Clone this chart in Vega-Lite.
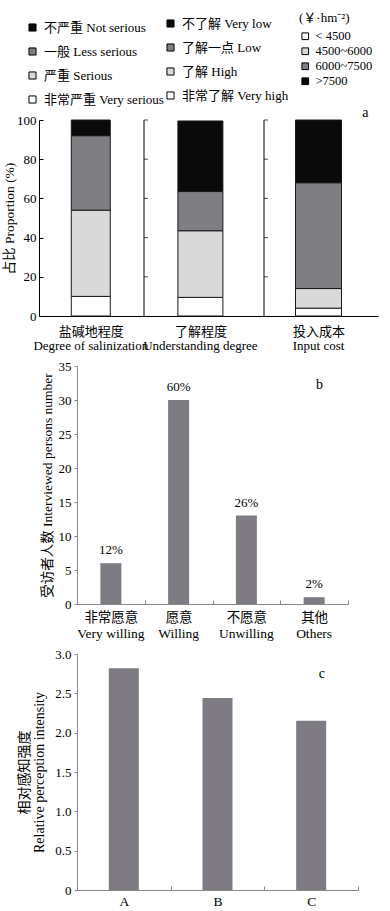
{
  "$schema": "https://vega.github.io/schema/vega-lite/v6.json",
  "background": "white",
  "padding": {"left": 2, "top": 12, "right": 0, "bottom": 0},
  "spacing": 7,
  "config": {
    "font": "Liberation Serif, Noto Sans CJK SC",
    "view": {"stroke": null},
    "axis": {"labelFont": "Liberation Serif, Noto Sans CJK SC", "titleFont": "Liberation Serif, Noto Sans CJK SC", "labelColor": "#000", "titleColor": "#000", "titleFontWeight": "normal", "grid": false, "labelFontSize": 13, "titleFontSize": 14, "labelOverlap": false},
    "legend": {"labelFont": "Liberation Serif, Noto Sans CJK SC", "titleFont": "Liberation Serif, Noto Sans CJK SC", "labelColor": "#000", "titleColor": "#000", "titleFontWeight": "normal"},
    "text": {"font": "Liberation Serif, Noto Sans CJK SC", "color": "#000"}
  },
  "datasets": {
    "a1": [
      {"group": "盐碱地程度", "level": "非常严重 Very serious", "value": 10, "rank": 1},
      {"group": "盐碱地程度", "level": "严重 Serious", "value": 44, "rank": 2},
      {"group": "盐碱地程度", "level": "一般 Less serious", "value": 38, "rank": 3},
      {"group": "盐碱地程度", "level": "不严重 Not serious", "value": 8, "rank": 4}
    ],
    "a2": [
      {"group": "了解程度", "level": "非常了解 Very high", "value": 9.5, "rank": 1},
      {"group": "了解程度", "level": "了解 High", "value": 34, "rank": 2},
      {"group": "了解程度", "level": "了解一点 Low", "value": 20, "rank": 3},
      {"group": "了解程度", "level": "不了解 Very low", "value": 36, "rank": 4}
    ],
    "a3": [
      {"group": "投入成本", "level": "< 4500", "value": 4, "rank": 1},
      {"group": "投入成本", "level": "4500~6000", "value": 10, "rank": 2},
      {"group": "投入成本", "level": "6000~7500", "value": 54, "rank": 3},
      {"group": "投入成本", "level": ">7500", "value": 32, "rank": 4}
    ],
    "aTicks": [
      {"value": 20}, {"value": 40}, {"value": 60}, {"value": 80}, {"value": 100}
    ],
    "b": [
      {"cat": "非常愿意", "en": "Very willing", "n": 6, "pct": "12%"},
      {"cat": "愿意", "en": "Willing", "n": 30, "pct": "60%"},
      {"cat": "不愿意", "en": "Unwilling", "n": 13, "pct": "26%"},
      {"cat": "其他", "en": "Others", "n": 1, "pct": "2%"}
    ],
    "c": [
      {"cat": "A", "v": 2.82},
      {"cat": "B", "v": 2.44},
      {"cat": "C", "v": 2.15}
    ]
  },
  "vconcat": [
    {
      "width": 301,
      "height": 196,
      "resolve": {"scale": {"color": "independent"}, "legend": {"color": "independent"}},
      "layer": [
        {
          "data": {"name": "a1"},
          "mark": {"type": "bar", "size": 39, "stroke": "#1a1a1a", "strokeWidth": 1},
          "encoding": {
            "x": {"datum": 0.47, "type": "quantitative",
              "scale": {"domain": [0, 1, 2, 3], "range": [-38, 67, 187, 301], "zero": false, "nice": false},
              "axis": {"values": [0.47, 1.47, 2.5], "labelExpr": "datum.value < 1 ? '盐碱地程度' : datum.value < 2 ? '了解程度' : '投入成本'", "title": null, "ticks": false, "grid": false, "domainColor": "#000", "labelPadding": 9, "labelFontSize": 13, "labelFlush": false, "labelOverlap": false}},
            "y": {"field": "value", "type": "quantitative", "scale": {"domain": [0, 100]},
              "axis": {"values": [0, 20, 40, 60, 80, 100], "labelOverlap": false, "title": "占比 Proportion (%)", "titleFontSize": 13.5, "offset": 38, "tickSize": -4, "labelPadding": 7, "domainColor": "#000", "tickColor": "#000", "titlePadding": 0}},
            "color": {"field": "level", "type": "nominal",
              "scale": {"domain": ["不严重 Not serious", "一般 Less serious", "严重 Serious", "非常严重 Very serious"], "range": ["#0a0a0a", "#7f7e83", "#d9d9d9", "#ffffff"]},
              "legend": {"orient": "none", "legendX": -51, "legendY": -99, "title": null, "symbolType": "square", "symbolSize": 50, "symbolStrokeColor": "#000", "symbolStrokeWidth": 1, "labelFontSize": 13, "rowPadding": 10, "labelOffset": 5}},
            "order": {"field": "rank", "type": "quantitative"}
          }
        },
        {
          "data": {"name": "a2"},
          "mark": {"type": "bar", "size": 45, "stroke": "#1a1a1a", "strokeWidth": 1},
          "encoding": {
            "x": {"datum": 1.47, "type": "quantitative"},
            "y": {"field": "value", "type": "quantitative",
              "axis": {"values": [0, 20, 40, 60, 80, 100], "labelOverlap": false, "title": "占比 Proportion (%)", "titleFontSize": 13.5, "offset": 38, "tickSize": -4, "labelPadding": 7, "domainColor": "#000", "tickColor": "#000", "titlePadding": 0}},
            "color": {"field": "level", "type": "nominal",
              "scale": {"domain": ["不了解 Very low", "了解一点 Low", "了解 High", "非常了解 Very high"], "range": ["#0a0a0a", "#7f7e83", "#d9d9d9", "#ffffff"]},
              "legend": {"orient": "none", "legendX": 87, "legendY": -103, "title": null, "symbolType": "square", "symbolSize": 50, "symbolStrokeColor": "#000", "symbolStrokeWidth": 1, "labelFontSize": 13, "rowPadding": 10, "labelOffset": 5}},
            "order": {"field": "rank", "type": "quantitative"}
          }
        },
        {
          "data": {"name": "a3"},
          "mark": {"type": "bar", "size": 46, "stroke": "#1a1a1a", "strokeWidth": 1},
          "encoding": {
            "x": {"datum": 2.5, "type": "quantitative"},
            "y": {"field": "value", "type": "quantitative",
              "axis": {"values": [0, 20, 40, 60, 80, 100], "labelOverlap": false, "title": "占比 Proportion (%)", "titleFontSize": 13.5, "offset": 38, "tickSize": -4, "labelPadding": 7, "domainColor": "#000", "tickColor": "#000", "titlePadding": 0}},
            "color": {"field": "level", "type": "nominal",
              "scale": {"domain": ["< 4500", "4500~6000", "6000~7500", ">7500"], "range": ["#ffffff", "#d9d9d9", "#7f7e83", "#0a0a0a"]},
              "legend": {"orient": "none", "legendX": 222, "legendY": -108, "title": "(￥·hm⁻²)", "titleFontSize": 13, "titlePadding": 5, "symbolType": "square", "symbolSize": 45, "symbolStrokeColor": "#000", "symbolStrokeWidth": 1, "labelFontSize": 12.5, "rowPadding": 2, "labelOffset": 4}},
            "order": {"field": "rank", "type": "quantitative"}
          }
        },
        {
          "data": {"values": [{}]},
          "mark": {"type": "rule", "color": "#000", "strokeWidth": 1},
          "encoding": {"x": {"datum": 1, "type": "quantitative"}}
        },
        {
          "data": {"values": [{}]},
          "mark": {"type": "rule", "color": "#000", "strokeWidth": 1},
          "encoding": {"x": {"datum": 2, "type": "quantitative"}}
        },
        {
          "data": {"name": "aTicks"},
          "mark": {"type": "tick", "orient": "horizontal", "size": 4, "thickness": 1, "xOffset": 2, "color": "#000"},
          "encoding": {
            "x": {"datum": 1, "type": "quantitative"},
            "y": {"field": "value", "type": "quantitative",
              "axis": {"values": [0, 20, 40, 60, 80, 100], "labelOverlap": false, "title": "占比 Proportion (%)", "titleFontSize": 13.5, "offset": 38, "tickSize": -4, "labelPadding": 7, "domainColor": "#000", "tickColor": "#000", "titlePadding": 0}}
          }
        },
        {
          "data": {"name": "aTicks"},
          "mark": {"type": "tick", "orient": "horizontal", "size": 4, "thickness": 1, "xOffset": 2, "color": "#000"},
          "encoding": {
            "x": {"datum": 2, "type": "quantitative"},
            "y": {"field": "value", "type": "quantitative",
              "axis": {"values": [0, 20, 40, 60, 80, 100], "labelOverlap": false, "title": "占比 Proportion (%)", "titleFontSize": 13.5, "offset": 38, "tickSize": -4, "labelPadding": 7, "domainColor": "#000", "tickColor": "#000", "titlePadding": 0}}
          }
        },
        {
          "data": {"values": [{}]},
          "mark": {"type": "text", "text": "Degree of salinization", "fontSize": 13, "dy": 30, "baseline": "middle"},
          "encoding": {"x": {"datum": 0.47, "type": "quantitative"},
            "y": {"datum": 0, "type": "quantitative",
              "axis": {"values": [0, 20, 40, 60, 80, 100], "labelOverlap": false, "title": "占比 Proportion (%)", "titleFontSize": 13.5, "offset": 38, "tickSize": -4, "labelPadding": 7, "domainColor": "#000", "tickColor": "#000", "titlePadding": 0}}}
        },
        {
          "data": {"values": [{}]},
          "mark": {"type": "text", "text": "Understanding degree", "fontSize": 13, "dy": 30, "baseline": "middle"},
          "encoding": {"x": {"datum": 1.47, "type": "quantitative"},
            "y": {"datum": 0, "type": "quantitative",
              "axis": {"values": [0, 20, 40, 60, 80, 100], "labelOverlap": false, "title": "占比 Proportion (%)", "titleFontSize": 13.5, "offset": 38, "tickSize": -4, "labelPadding": 7, "domainColor": "#000", "tickColor": "#000", "titlePadding": 0}}}
        },
        {
          "data": {"values": [{}]},
          "mark": {"type": "text", "text": "Input cost", "fontSize": 13, "dy": 30, "baseline": "middle"},
          "encoding": {"x": {"datum": 2.5, "type": "quantitative"},
            "y": {"datum": 0, "type": "quantitative",
              "axis": {"values": [0, 20, 40, 60, 80, 100], "labelOverlap": false, "title": "占比 Proportion (%)", "titleFontSize": 13.5, "offset": 38, "tickSize": -4, "labelPadding": 7, "domainColor": "#000", "tickColor": "#000", "titlePadding": 0}}}
        },
        {
          "data": {"values": [{}]},
          "mark": {"type": "text", "text": "a", "fontSize": 14, "baseline": "middle"},
          "encoding": {"x": {"datum": 2.93, "type": "quantitative"},
            "y": {"datum": 103.6, "type": "quantitative",
              "axis": {"values": [0, 20, 40, 60, 80, 100], "labelOverlap": false, "title": "占比 Proportion (%)", "titleFontSize": 13.5, "offset": 38, "tickSize": -4, "labelPadding": 7, "domainColor": "#000", "tickColor": "#000", "titlePadding": 0}}}
        }
      ]
    },
    {
      "width": 271,
      "height": 238,
      "data": {"name": "b"},
      "title": {"text": "b", "anchor": "end", "frame": "group", "dx": -25, "offset": -32, "fontSize": 14, "fontWeight": "normal", "font": "Liberation Serif"},
      "encoding": {
        "x": {"field": "cat", "type": "nominal",
          "scale": {"domain": ["非常愿意", "愿意", "不愿意", "其他"], "paddingInner": 0, "paddingOuter": 0},
          "axis": {"title": null, "labelAngle": 0, "tickBand": "extent", "tickSize": -4, "domainColor": "#888", "tickColor": "#888", "labelPadding": 10, "labelFontSize": 13.5}},
        "y": {"field": "n", "type": "quantitative", "scale": {"domain": [0, 35]},
          "axis": {"values": [0, 5, 10, 15, 20, 25, 30, 35], "title": "受访者人数 Interviewed persons number", "domainColor": "#888", "tickColor": "#888", "tickSize": 3, "labelPadding": 3, "titlePadding": 4, "titleFontSize": 13.5}}
      },
      "layer": [
        {"mark": {"type": "bar", "size": 21, "color": "#7e7c82"}},
        {"mark": {"type": "text", "baseline": "bottom", "dy": -6, "fontSize": 13}, "encoding": {"text": {"field": "pct"}}},
        {"mark": {"type": "text", "baseline": "middle", "dy": 30, "fontSize": 13.5}, "encoding": {"y": {"datum": 0, "type": "quantitative"}, "text": {"field": "en"}}}
      ]
    },
    {
      "width": 281,
      "height": 236,
      "data": {"name": "c"},
      "title": {"text": "c", "anchor": "end", "frame": "group", "dx": -33, "offset": -33, "fontSize": 14, "fontWeight": "normal", "font": "Liberation Serif"},
      "encoding": {
        "x": {"field": "cat", "type": "nominal",
          "scale": {"domain": ["A", "B", "C"], "paddingInner": 0, "paddingOuter": 0},
          "axis": {"title": null, "labelAngle": 0, "tickBand": "extent", "tickSize": -4, "domainColor": "#888", "tickColor": "#888", "labelPadding": 8, "labelFontSize": 13.5}},
        "y": {"field": "v", "type": "quantitative", "scale": {"domain": [0, 3]},
          "axis": {"values": [0, 0.5, 1, 1.5, 2, 2.5, 3], "labelExpr": "datum.value == 0 ? '0' : format(datum.value, '.1f')", "title": ["相对感知强度", "Relative perception intensity"], "titleLineHeight": 15, "domainColor": "#888", "tickColor": "#888", "tickSize": 3, "labelPadding": 3, "titlePadding": 8, "titleFontSize": 14}}
      },
      "mark": {"type": "bar", "size": 30, "color": "#7e7c82"}
    }
  ]
}
